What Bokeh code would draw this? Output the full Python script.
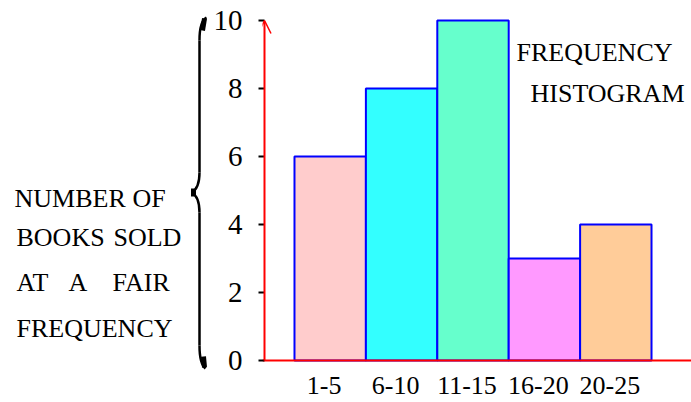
from bokeh.plotting import figure
from bokeh.models import Range1d, LinearAxis, FixedTicker, Arrow, OpenHead
from bokeh.layouts import row
from bokeh.core.properties import value
from bokeh.embed import file_html
from bokeh.resources import INLINE

categories = ["1-5", "6-10", "11-15", "16-20", "20-25"]
frequencies = [6, 8, 10, 3, 4]
bar_colors = ["#FFCCCC", "#33FFFF", "#66FFCC", "#FF99FF", "#FFCC99"]
y_ticks = [0, 2, 4, 6, 8, 10]
title_lines = ["FREQUENCY", "HISTOGRAM"]
side_words = ["NUMBER", "OF", "BOOKS", "SOLD", "AT", "A", "FAIR", "FREQUENCY"]

FONT = "Liberation Serif"

# ---------- left panel: side caption and brace (pixel coordinates) ----------
p1 = figure(width=208, height=402, x_range=Range1d(0, 208), y_range=Range1d(402, 0),
            output_backend="svg", toolbar_location=None, min_border=0,
            min_border_left=0, min_border_right=0, min_border_top=0, min_border_bottom=0,
            x_axis_location=None, y_axis_location=None)
p1.grid.visible = False
p1.outline_line_color = None

wx = [14, 132, 16, 113, 16, 68, 112, 16]
wy = [198, 198, 237, 237, 282, 282, 282, 328]
p1.text(x=wx, y=wy, text=side_words, text_font=value(FONT), text_font_size="26px",
        text_baseline="middle", text_align="left", text_color="black")

# brace
p1.bezier(x0=[206, 199, 191, 199], y0=[17, 172, 192, 345],
          x1=[199, 191, 199, 205], y1=[40, 192, 212, 368],
          cx0=[200, 199, 195, 199], cy0=[20, 185, 194, 356],
          cx1=[199, 195, 199, 200], cy1=[30, 190, 199, 364],
          line_color="black", line_width=2.5)
p1.segment(x0=[199, 199], y0=[40, 212], x1=[199, 199], y1=[172, 345],
           line_color="black", line_width=2.5)
p1.segment(x0=[204, 193, 203], y0=[18, 188, 356], x1=[202, 193, 204], y1=[30, 196, 367],
           line_color="black", line_width=5)

# ---------- right panel: the histogram ----------
p2 = figure(width=483, height=402, x_range=Range1d(-0.448, 5.56),
            y_range=Range1d(-42 / 34, 360 / 34),
            output_backend="svg", toolbar_location=None,
            min_border_left=54, min_border_right=0, min_border_top=0, min_border_bottom=0,
            x_axis_location=None, y_axis_location=None)
p2.grid.visible = False
p2.outline_line_color = None
p2.extra_x_ranges = {"px": Range1d(262, 691)}
p2.extra_y_ranges = {"px": Range1d(402, 0)}

xs = [i + 0.5 for i in range(len(categories))]
p2.vbar(x=xs, width=1.0, top=frequencies, bottom=0, fill_color=bar_colors,
        line_color="#0000FF", line_width=2)

# x axis line (red) and category labels
p2.segment(x0=[-0.448], y0=[0], x1=[5.56], y1=[0], line_color="red", line_width=2)
p2.text(x=xs, y=[385] * len(xs), text=categories, y_range_name="px",
        x_offset=-6, text_font=value(FONT), text_font_size="26px",
        text_baseline="middle", text_align="center", text_color="black")

yaxis = LinearAxis(ticker=FixedTicker(ticks=y_ticks))
yaxis.axis_line_color = None
yaxis.major_tick_out = 4
yaxis.major_tick_in = 2
yaxis.major_tick_line_color = "black"
yaxis.major_tick_line_width = 2
yaxis.minor_tick_line_color = None
yaxis.major_label_standoff = 16
yaxis.major_label_text_font = FONT
yaxis.major_label_text_font_size = "29px"
yaxis.major_label_text_color = "black"
p2.add_layout(yaxis, "left")

p2.add_layout(Arrow(end=OpenHead(size=13, line_color="red", line_width=1.5),
                    x_start=-0.42, y_start=0, x_end=-0.42, y_end=10,
                    line_color="red", line_width=2))

p2.text(x=[516, 530], y=[52, 93], text=title_lines, x_range_name="px", y_range_name="px",
        text_font=value(FONT), text_font_size="26px", text_baseline="middle",
        text_align="left", text_color="black")

layout = row(p1, p2)
open("out.html", "w").write(file_html(layout, INLINE))
